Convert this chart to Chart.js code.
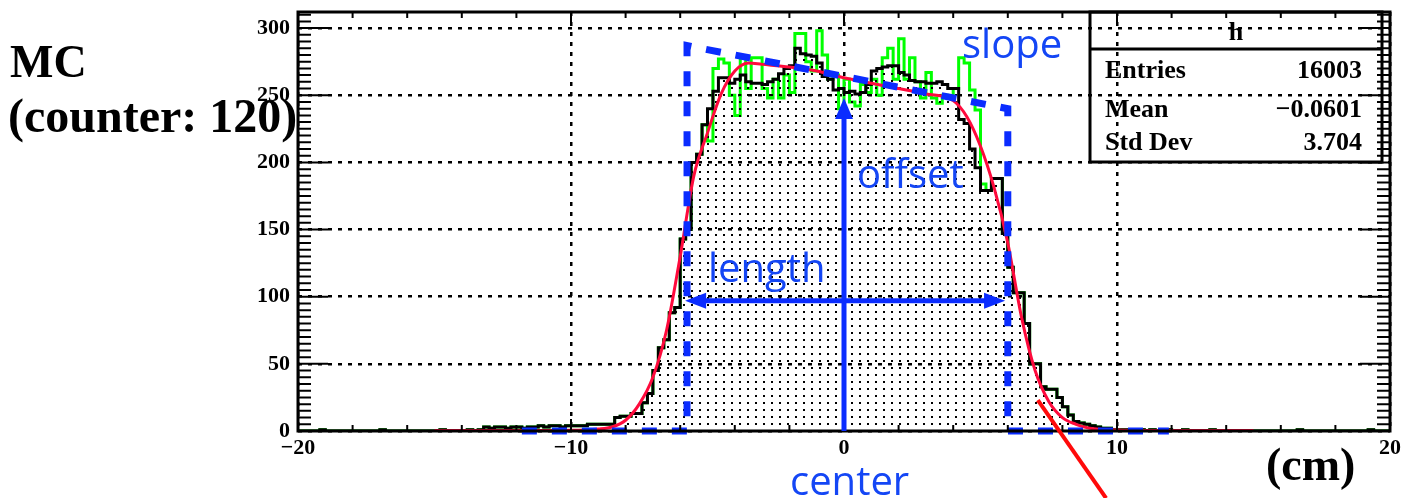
<!DOCTYPE html>
<html>
<head>
<meta charset="utf-8">
<script src="https://cdn.jsdelivr.net/npm/chart.js@4.4.1/dist/chart.umd.min.js"></script>
<style>
  html, body { margin: 0; padding: 0; background: #fff; }
  #wrap { width: 1404px; height: 498px; }
</style>
</head>
<body>
<div id="wrap"><canvas id="histChart" width="1404" height="498"></canvas></div>
<script>
// histogram "h": 200 bins of 0.2 cm between -20 and 20 cm
const binLow = -20;
const binWidth = 0.2;

const blackCounts = [
  0, 0, 0, 0, 1, 0, 0, 0, 0, 0,
  0, 0, 0, 0, 0, 1, 0, 0, 0, 0,
  0, 0, 0, 0, 0, 0, 1, 0, 0, 0,
  0, 1, 0, 1, 3, 2, 3, 3, 2, 3,
  3, 2, 3, 3, 4, 3, 4, 4, 3, 4,
  4, 4, 4, 5, 5, 5, 5, 5, 10, 11,
  11, 13, 13, 21, 28, 45, 62, 68, 88, 92,
  143, 150, 200, 206, 228, 240, 253, 263, 263, 259,
  262, 265, 260, 259, 259, 258, 260, 262, 266, 270,
  272, 285, 281, 280, 279, 274, 264, 262, 254, 255,
  252, 253, 251, 252, 258, 268, 270, 271, 272, 272,
  267, 265, 261, 260, 260, 259, 259, 260, 258, 255,
  255, 232, 229, 210, 196, 179, 179, 188, 188, 147,
  122, 103, 103, 80, 50, 50, 33, 31, 31, 25,
  18, 12, 7, 6, 5, 4, 3, 2, 2, 1,
  1, 1, 1, 0, 1, 0, 1, 0, 0, 1,
  0, 0, 1, 0, 0, 0, 0, 1, 0, 0,
  0, 0, 0, 0, 0, 0, 0, 0, 0, 0,
  0, 0, 0, 1, 0, 0, 0, 0, 0, 0,
  0, 0, 0, 0, 0, 0, 1, 0, 0, 0
];

const greenCounts = [
  0, 0, 0, 0, 1, 0, 0, 0, 0, 0,
  0, 0, 0, 0, 0, 1, 0, 0, 0, 0,
  0, 0, 0, 0, 0, 0, 1, 0, 0, 0,
  0, 1, 0, 1, 3, 2, 3, 3, 2, 3,
  3, 2, 3, 3, 4, 3, 4, 4, 3, 4,
  4, 4, 4, 5, 5, 5, 5, 5, 10, 11,
  11, 13, 13, 21, 28, 45, 62, 68, 88, 92,
  143, 150, 200, 206, 228, 216, 270, 277, 274, 250,
  235, 278, 255, 278, 278, 255, 248, 262, 248, 265,
  252, 296, 296, 275, 268, 298, 280, 262, 265, 240,
  262, 245, 242, 258, 252, 262, 250, 278, 285, 262,
  292, 262, 278, 260, 248, 267, 248, 244, 250, 248,
  255, 278, 274, 254, 239, 184, 179, 188, 188, 147,
  122, 103, 103, 80, 50, 50, 33, 31, 31, 25,
  18, 12, 7, 6, 5, 4, 3, 2, 2, 1,
  1, 1, 1, 0, 1, 0, 1, 0, 0, 1,
  0, 0, 1, 0, 0, 0, 0, 1, 0, 0,
  0, 0, 0, 0, 0, 0, 0, 0, 0, 0,
  0, 0, 0, 1, 0, 0, 0, 0, 0, 0,
  0, 0, 0, 0, 0, 0, 1, 0, 0, 0
];

// fitted function (red)
const fitX = [-15, -12, -10, -9, -8.5, -8, -7.5, -7, -6.5, -6, -5.5, -5, -4.5, -4, -3.5, -3, -2, -1, 0,
  1, 2, 3, 4, 4.5, 5, 5.5, 6, 6.5, 7, 7.5, 8, 8.5, 9, 10, 12, 15];
const fitY = [0.3, 0.3, 0.5, 1.5, 3, 8, 20, 40, 75, 130, 190, 222, 251, 268, 274, 273, 271, 268, 263,
  259, 255, 251, 246, 234, 212, 181, 140, 85, 45, 22, 10, 5, 2, 0.7, 0.3, 0.3];

// model trapezoid (blue dashed)
const modelX = [-11.8, -5.75, -5.75, 6.0, 6.0, 11.9];
const modelY = [0, 0, 287, 240, 0, 0];

// annotation arrows: [x, yFrom, yTo] and [xFrom, xTo, y]
const offsetArrow = [0, 0, 248];
const lengthArrow = [-5.82, 5.9, 97];
// red pointer: [x1, y1, x2, y2]
const pointerLine = [7.1, 23, 9.6, -50];

const xTicks = [-20, -10, 0, 10, 20];
const xTickLabels = ['\u221220', '\u221210', '0', '10', '20'];
const yTicks = [0, 50, 100, 150, 200, 250, 300];

const statNames = ['Entries', 'Mean', 'Std Dev'];
const statValues = ['16003', '\u22120.0601', '3.704'];

function histPoints(counts) {
  const pts = counts.map((c, i) => ({ x: binLow + i * binWidth, y: c }));
  pts.push({ x: binLow + counts.length * binWidth, y: counts[counts.length - 1] });
  return pts;
}

function dotPattern() {
  const c = document.createElement('canvas');
  c.width = 8;
  c.height = 7;
  const g = c.getContext('2d');
  g.fillStyle = '#000';
  g.fillRect(3, 3, 2, 2);
  return document.getElementById('histChart').getContext('2d').createPattern(c, 'repeat');
}

function arrowHead(ctx, tx, ty, dx, dy, len, half) {
  ctx.beginPath();
  ctx.moveTo(tx, ty);
  ctx.lineTo(tx - dx * len - dy * half, ty - dy * len + dx * half);
  ctx.lineTo(tx - dx * len + dy * half, ty - dy * len - dx * half);
  ctx.closePath();
  ctx.fill();
}

const serif = '"Liberation Serif", "Times New Roman", serif';
const sans = '"Open Sans", "Noto Sans", sans-serif';
const blue = '#0a2cff';
const textBlue = '#1446f5';

const decorations = {
  id: 'decorations',
  afterDraw(chart) {
    const { ctx, chartArea: a, scales: { x, y } } = chart;
    ctx.save();

    // ticks on all four sides
    ctx.strokeStyle = '#000';
    ctx.lineWidth = 2;
    ctx.beginPath();
    for (let v = 0; v <= 310; v += 5) {
      const py = y.getPixelForValue(v);
      const len = v % 50 === 0 ? 30 : 13;
      ctx.moveTo(a.left, py); ctx.lineTo(a.left + len, py);
      ctx.moveTo(a.right, py); ctx.lineTo(a.right - len, py);
    }
    for (let v = -20; v <= 20; v += 2) {
      const px = x.getPixelForValue(v);
      const len = v % 10 === 0 ? 12 : 6;
      ctx.moveTo(px, a.bottom); ctx.lineTo(px, a.bottom - len);
      ctx.moveTo(px, a.top); ctx.lineTo(px, a.top + len);
    }
    ctx.stroke();

    ctx.lineWidth = 3;
    ctx.strokeRect(a.left, a.top, a.right - a.left, a.bottom - a.top);

    // stats box
    const bx = 1090, bw = 292, by = a.top, bh = 150;
    ctx.strokeRect(bx, by, bw, bh);
    ctx.beginPath();
    ctx.moveTo(bx, 49); ctx.lineTo(bx + bw, 49);
    ctx.stroke();
    ctx.fillStyle = '#000';
    ctx.font = 'bold 26px ' + serif;
    ctx.textAlign = 'center';
    ctx.textBaseline = 'alphabetic';
    ctx.fillText('h', bx + bw / 2, 40);
    const rows = [78, 117, 150];
    statNames.forEach((n, i) => {
      ctx.textAlign = 'left';
      ctx.fillText(n, 1105, rows[i]);
      ctx.textAlign = 'right';
      ctx.fillText(statValues[i], 1362, rows[i]);
    });

    // arrows
    ctx.strokeStyle = blue;
    ctx.fillStyle = blue;
    ctx.lineWidth = 5;
    const ax = x.getPixelForValue(offsetArrow[0]);
    const ay0 = y.getPixelForValue(offsetArrow[1]);
    const ay1 = y.getPixelForValue(offsetArrow[2]);
    ctx.beginPath();
    ctx.moveTo(ax, ay0); ctx.lineTo(ax, ay1 + 16);
    ctx.stroke();
    arrowHead(ctx, ax, ay1, 0, -1, 21, 9);

    const lx0 = x.getPixelForValue(lengthArrow[0]);
    const lx1 = x.getPixelForValue(lengthArrow[1]);
    const ly = y.getPixelForValue(lengthArrow[2]);
    ctx.beginPath();
    ctx.moveTo(lx0 + 16, ly); ctx.lineTo(lx1 - 16, ly);
    ctx.stroke();
    arrowHead(ctx, lx0, ly, -1, 0, 21, 8);
    arrowHead(ctx, lx1, ly, 1, 0, 21, 8);

    // red pointer
    ctx.strokeStyle = '#ff0a0a';
    ctx.lineWidth = 4;
    ctx.beginPath();
    ctx.moveTo(x.getPixelForValue(pointerLine[0]), y.getPixelForValue(pointerLine[1]));
    ctx.lineTo(x.getPixelForValue(pointerLine[2]), y.getPixelForValue(pointerLine[3]));
    ctx.stroke();

    // labels
    ctx.fillStyle = textBlue;
    ctx.font = '40px ' + sans;
    ctx.textAlign = 'left';
    ctx.fillText('slope', 962, 58);
    ctx.fillText('offset', 857, 188);
    ctx.fillText('length', 708, 282);
    ctx.fillText('center', 790, 495);

    ctx.fillStyle = '#000';
    ctx.font = 'bold 46px ' + serif;
    ctx.fillText('MC', 10, 77);
    ctx.font = 'bold 48px ' + serif;
    ctx.fillText('(counter: 120)', 8, 132);
    ctx.font = 'bold 46px ' + serif;
    ctx.fillText('(cm)', 1266, 480);

    ctx.restore();
  }
};

const tickFont = { family: serif, weight: 'bold', size: 22 };

new Chart(document.getElementById('histChart'), {
  type: 'line',
  data: {
    datasets: [
      {
        label: 'model',
        data: modelX.map((v, i) => ({ x: v, y: modelY[i] })),
        borderColor: blue,
        borderWidth: 7,
        borderDash: [15, 15],
        pointRadius: 0,
        fill: false,
        clip: false,
        order: 1
      },
      {
        label: 'fit',
        data: fitX.map((v, i) => ({ x: v, y: fitY[i] })),
        borderColor: '#ff0a3c',
        borderWidth: 3,
        pointRadius: 0,
        cubicInterpolationMode: 'monotone',
        fill: false,
        clip: false,
        order: 2
      },
      {
        label: 'h',
        data: histPoints(blackCounts),
        stepped: true,
        borderColor: '#000',
        borderWidth: 3,
        backgroundColor: dotPattern(),
        fill: 'origin',
        pointRadius: 0,
        order: 3
      },
      {
        label: 'h2',
        data: histPoints(greenCounts),
        stepped: true,
        borderColor: '#00ff00',
        borderWidth: 3,
        pointRadius: 0,
        fill: false,
        order: 4
      }
    ]
  },
  options: {
    responsive: false,
    animation: false,
    layout: { padding: { left: 0, right: 14, top: 12, bottom: 0 } },
    plugins: { legend: { display: false }, tooltip: { enabled: false } },
    scales: {
      x: {
        type: 'linear',
        min: -20,
        max: 20,
        afterBuildTicks: s => { s.ticks = xTicks.map(v => ({ value: v })); },
        afterFit: s => { s.height = 67; s.paddingLeft = 0; s.paddingRight = 0; },
        grid: { color: '#000', lineWidth: 2.5, drawTicks: false },
        border: { display: false, dash: [4, 6] },
        ticks: {
          padding: 4,
          color: '#000',
          font: tickFont,
          maxRotation: 0,
          autoSkip: false,
          callback: (v, i) => xTickLabels[i]
        }
      },
      y: {
        type: 'linear',
        min: 0,
        max: 312,
        afterBuildTicks: s => { s.ticks = yTicks.map(v => ({ value: v })); },
        afterFit: s => { s.width = 298; s.paddingTop = 0; s.paddingBottom = 0; },
        grid: { color: '#000', lineWidth: 2.5, drawTicks: false },
        border: { display: false, dash: [4, 6] },
        ticks: {
          padding: 8,
          color: '#000',
          font: tickFont,
          autoSkip: false,
          callback: v => String(v)
        }
      }
    }
  },
  plugins: [decorations]
});
</script>
</body>
</html>
